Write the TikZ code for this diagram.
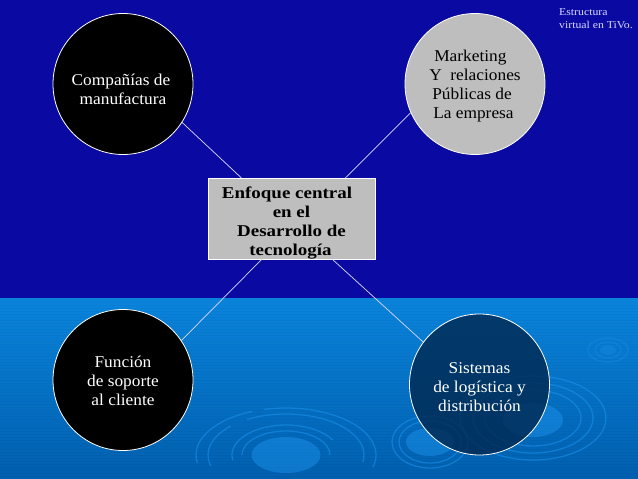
\documentclass[tikz,border=0pt]{standalone}
\usepackage{fontspec}
\setmainfont[FakeStretch=1.05]{Liberation Serif}
\newfontfamily\boldserif[FakeStretch=1.15]{Liberation Serif Bold}
\newfontfamily\noteserif[FakeStretch=1.12]{Liberation Serif}
\usetikzlibrary{shapes.geometric}
\definecolor{topblue}{HTML}{0A0AA2}
\definecolor{seatop}{HTML}{0A84DC}
\definecolor{seabot}{HTML}{005FAE}
\definecolor{ringc}{HTML}{1E96F0}
\definecolor{panel}{HTML}{BEBEBE}
\definecolor{glass}{HTML}{00264D}
\newcommand{\lifted}[1]{\rule{0pt}{#1}}
\tikzset{
  blob/.style={ellipse,draw=white,line width=0.8pt,minimum width=140pt,minimum height=141pt,inner sep=-12pt,outer sep=0pt,text=white,font=\fontsize{16.5}{19}\selectfont},
  darkblob/.style={blob,fill=black},
  greyblob/.style={blob,fill=panel,text=black},
  glassblob/.style={blob,fill=glass,fill opacity=0.78,text opacity=1},
  centerbox/.style={rectangle,draw=white,line width=0.8pt,fill=panel,minimum width=167pt,minimum height=81pt,inner sep=-4pt,outer sep=0pt,font=\fontsize{16.5}{19}\boldserif\selectfont},
  link/.style={draw=white!85!blue,line width=0.7pt},
  ring/.style={draw=ringc,line width=1.3pt,opacity=0.5},
  pool/.style={fill=ringc,opacity=0.45},
  note/.style={text=white!85!blue,font=\fontsize{10.5}{13}\noteserif\selectfont,align=left,inner sep=0pt}
}
\begin{document}
\begin{tikzpicture}[x=1pt,y=-1pt]
\useasboundingbox (0,0) rectangle (638,479);
\fill[topblue] (0,0) rectangle (638,298);
\shade[top color=seatop,bottom color=seabot] (0,298) rectangle (638,479);
\foreach \sy in {299,302,...,478} { \draw[black,opacity=0.03,line width=1pt] (0,\sy) -- (638,\sy); }
\begin{scope}
\clip (0,298) rectangle (638,479);
% large ripple
\fill[pool] (286,455) ellipse (34.5 and 18);
\draw[ring] ([shift={(286,455)}]170:90 and 47) arc (170:248:90 and 47);
\draw[ring] ([shift={(286,455)}]256:90 and 47) arc (256:375:90 and 47);
\draw[ring] ([shift={(286,455)}]165:78 and 41) arc (165:225:78 and 41);
\draw[ring] ([shift={(286,455)}]240:78 and 41) arc (240:370:78 and 41);
\draw[ring] ([shift={(286,455)}]170:54 and 30) arc (170:330:54 and 30);
\draw[ring] ([shift={(286,455)}]180:44 and 24) arc (180:360:44 and 24);
% right ripple
\fill[pool] (533,420) ellipse (30 and 17);
\draw[ring] (533,418) ellipse (73 and 42);
\draw[ring] (533,418) ellipse (60 and 35);
\draw[ring] (533,418) ellipse (48 and 28);
% middle ripple
\fill[pool] (430,442) ellipse (24 and 14);
\draw[ring] (430,442) ellipse (38 and 26);
\draw[ring] (430,442) ellipse (31 and 21);
% small ripple
\fill[pool,opacity=0.25] (608,350) ellipse (8 and 5);
\draw[ring,opacity=0.3] (608,350) ellipse (20 and 12);
\draw[ring,opacity=0.3] (608,350) ellipse (13 and 8);
\end{scope}
\node[darkblob,align=center] (tl) at (123,84) {\lifted{23pt}Compañías de\hspace*{4pt}\\manufactura};
\node[greyblob,align=left] (tr) at (475,84) {\lifted{15pt}\hspace*{5pt}Marketing\\Y\ \ relaciones\\\hspace*{3pt}Públicas de\\\hspace*{4pt}La empresa};
\node[darkblob,align=center] (bl) at (123,380) {\lifted{14pt}Función\\de soporte\\al cliente};
\node[glassblob,align=center] (br) at (479.5,384.5) {\lifted{17pt}Sistemas\\de logística y\\distribución};
\node[centerbox,align=center] (core) at (291.5,218.5) {\lifted{21pt}Enfoque central\hspace*{9pt}\\en el\\Desarrollo de\\tecnología\hspace*{2pt}};
\node[note,anchor=north west] (note) at (559,8) {Estructura\\virtual en TiVo.};
\draw[link] (tl.-33) -- (core.141);
\draw[link] (tr.-156) -- (core.37);
\draw[link] (bl.34) -- (core.234);
\draw[link] (br.143) -- (core.-45);
\end{tikzpicture}
\end{document}
